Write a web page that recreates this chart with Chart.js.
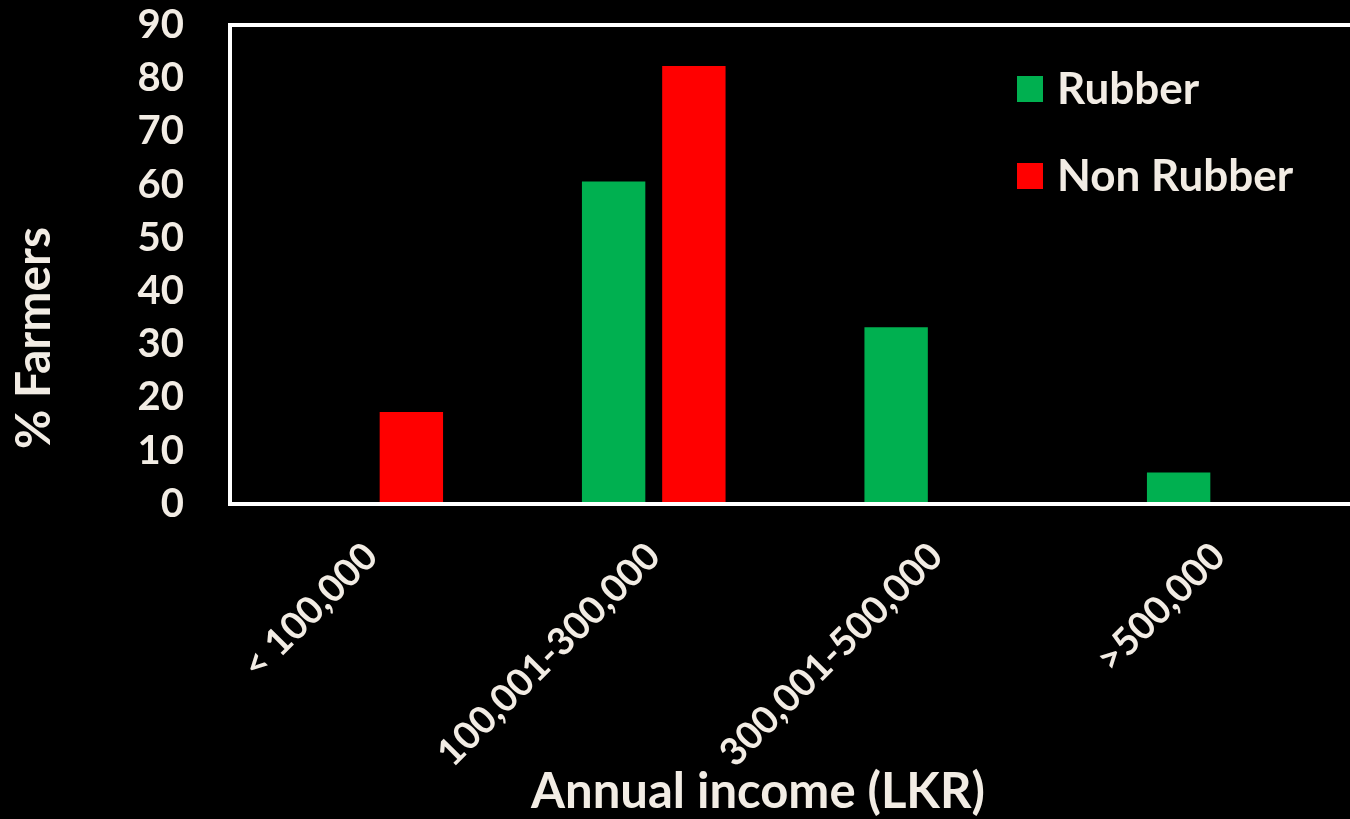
<!DOCTYPE html>
<html lang="en">
<head>
  <meta charset="UTF-8">
  <title>Annual income of farmers</title>
  <script src="https://cdn.jsdelivr.net/npm/chart.js"></script>
  <style>
    html, body {
      margin: 0;
      padding: 0;
      background-color: #000;
      overflow: hidden;
    }
    .chart-container {
      position: relative;
      width: 1364px;
      height: 819px;
    }
  </style>
</head>
<body>
  <div class="chart-container">
    <canvas id="incomeChart"></canvas>
  </div>

  <script>
    // Income bands (LKR) and share of farmers in each band
    const incomeBands = ['< 100,000', '100,001-300,000', '300,001-500,000', '>500,000'];
    const rubberFarmers = [0, 60.6, 33.2, 5.9];
    const nonRubberFarmers = [17.3, 82.3, 0, 0];
    const yTicks = [0, 10, 20, 30, 40, 50, 60, 70, 80, 90];
    const xAxisTitle = 'Annual income (LKR)';
    const yAxisTitle = '% Farmers';

    const textColor = '#F2ECE4';
    const fontFamily = 'Lato, "Open Sans", sans-serif';

    // white frame round the plot area (right edge runs off the page)
    const plotFrame = {
      id: 'plotFrame',
      afterDatasetsDraw(chart) {
        const { ctx, chartArea: a } = chart;
        ctx.save();
        ctx.strokeStyle = '#ffffff';
        ctx.lineWidth = 4;
        ctx.strokeRect(a.left, a.top, a.right - a.left, a.bottom - a.top);
        ctx.restore();
      }
    };

    // axis captions, placed freely rather than centred on the scales
    const axisTitles = {
      id: 'axisTitles',
      afterDraw(chart) {
        const { ctx } = chart;
        ctx.save();
        ctx.fillStyle = textColor;
        ctx.textAlign = 'center';
        ctx.textBaseline = 'middle';
        ctx.font = `bold 49px ${fontFamily}`;
        ctx.fillText(xAxisTitle, 758, 792);
        ctx.font = `bold 48px ${fontFamily}`;
        ctx.translate(35, 338);
        ctx.rotate(-Math.PI / 2);
        ctx.fillText(yAxisTitle, 0, 0);
        ctx.restore();
      }
    };

    // legend drawn inside the plot, top right
    const insideLegend = {
      id: 'insideLegend',
      afterDraw(chart) {
        const { ctx } = chart;
        ctx.save();
        ctx.font = `bold 44px ${fontFamily}`;
        ctx.textBaseline = 'middle';
        chart.data.datasets.forEach((ds, i) => {
          const cy = 89 + i * 87;
          ctx.fillStyle = ds.backgroundColor;
          ctx.fillRect(1017, cy - 13, 26, 26);
          ctx.fillStyle = textColor;
          ctx.fillText(ds.label, 1057, cy + 1);
        });
        ctx.restore();
      }
    };

    const ctx = document.getElementById('incomeChart').getContext('2d');
    new Chart(ctx, {
      type: 'bar',
      data: {
        labels: incomeBands,
        datasets: [
          {
            label: 'Rubber',
            data: rubberFarmers,
            backgroundColor: '#00B050',
            borderWidth: 0
          },
          {
            label: 'Non Rubber',
            data: nonRubberFarmers,
            backgroundColor: '#FF0000',
            borderWidth: 0
          }
        ]
      },
      options: {
        responsive: true,
        maintainAspectRatio: false,
        animation: false,
        layout: {
          padding: { top: 25, right: 4, left: 0, bottom: 0 }
        },
        datasets: {
          bar: {
            categoryPercentage: 0.568,
            barPercentage: 0.79
          }
        },
        scales: {
          x: {
            grid: { display: false, drawTicks: false },
            border: { display: false },
            ticks: {
              color: textColor,
              font: { family: fontFamily, size: 38, weight: 'bold' },
              minRotation: 45,
              maxRotation: 45,
              autoSkip: false,
              padding: 30
            },
            afterFit(scale) {
              scale.height = 315;
              scale.paddingLeft = 0;
              scale.paddingRight = 0;
            }
          },
          y: {
            min: 0,
            max: 90,
            afterBuildTicks(scale) {
              scale.ticks = yTicks.map(v => ({ value: v }));
            },
            grid: { display: false, drawTicks: false },
            border: { display: false },
            ticks: {
              color: textColor,
              font: { family: fontFamily, size: 40, weight: 'bold' },
              autoSkip: false,
              padding: 46
            },
            afterFit(scale) {
              scale.width = 230;
              scale.paddingTop = 0;
              scale.paddingBottom = 0;
            }
          }
        },
        plugins: {
          legend: { display: false },
          tooltip: { enabled: false }
        }
      },
      plugins: [plotFrame, axisTitles, insideLegend]
    });
  </script>
</body>
</html>
